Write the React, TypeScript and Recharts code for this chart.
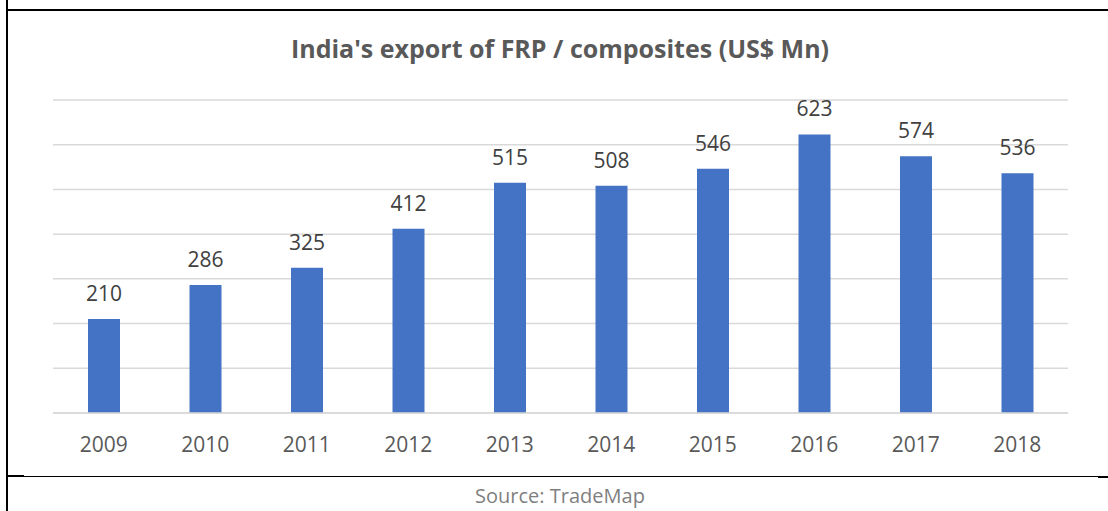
import React from "react";
import { BarChart, Bar, XAxis, YAxis, CartesianGrid, LabelList } from "recharts";

const years = ["2009", "2010", "2011", "2012", "2013", "2014", "2015", "2016", "2017", "2018"];
const exports = [210, 286, 325, 412, 515, 508, 546, 623, 574, 536];
const yTicks = [0, 100, 200, 300, 400, 500, 600, 700];

const data = years.map((year, i) => ({ year, value: exports[i] }));

const font = "'Open Sans', sans-serif";

const line = (style: React.CSSProperties) => (
  <div style={{ position: "absolute", background: "#000", ...style }} />
);

const App: React.FC = () => {
  return (
    <div
      style={{
        position: "absolute",
        left: 0,
        top: 0,
        width: 1108,
        height: 511,
        background: "#fff",
        fontFamily: font,
        overflow: "hidden",
      }}
    >
      {line({ left: 6, top: 0, width: 2, height: 511 })}
      {line({ left: 6, top: 9, width: 1102, height: 2 })}
      {line({ left: 7, top: 476, width: 1091, height: 1 })}
      {line({ left: 7, top: 475, width: 17, height: 2 })}
      {line({ left: 1098, top: 476, width: 10, height: 2 })}

      <div
        style={{
          position: "absolute",
          left: 0,
          top: 36,
          width: 1120,
          textAlign: "center",
          fontSize: 25,
          lineHeight: "25px",
          fontWeight: 700,
          color: "#595959",
        }}
      >
        India's export of FRP / composites (US$ Mn)
      </div>

      <div style={{ position: "absolute", left: 0, top: 0 }}>
        <BarChart
          width={1108}
          height={460}
          data={data}
          margin={{ top: 100, right: 40, left: 53, bottom: 0 }}
        >
          <CartesianGrid vertical={false} stroke="#d9d9d9" strokeWidth={1.5} />
          <YAxis hide domain={[0, 700]} ticks={yTicks} />
          <XAxis
            dataKey="year"
            height={47}
            tickLine={false}
            tickSize={0}
            tickMargin={24}
            axisLine={{ stroke: "#d9d9d9", strokeWidth: 1.5 }}
            tick={{ fill: "#595959", fontSize: 21, fontFamily: font }}
            interval={0}
          />
          <Bar dataKey="value" fill="#4472c4" barSize={32} isAnimationActive={false}>
            <LabelList
              dataKey="value"
              position="top"
              offset={18}
              fill="#404040"
              fontSize={21}
              fontFamily={font}
            />
          </Bar>
        </BarChart>
      </div>

      <div
        style={{
          position: "absolute",
          left: 0,
          top: 486,
          width: 1120,
          textAlign: "center",
          fontSize: 20,
          lineHeight: "20px",
          color: "#7f7f7f",
        }}
      >
        Source: TradeMap
      </div>
    </div>
  );
};

export default App;
